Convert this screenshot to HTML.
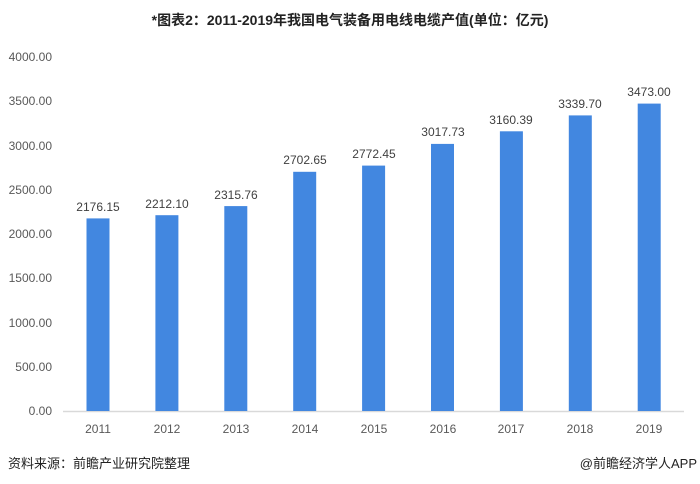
<!DOCTYPE html>
<html><head><meta charset="utf-8"><style>
body{margin:0;background:#fff;}
svg{display:block;font-family:"Liberation Sans","Noto Sans CJK SC",sans-serif;}
</style></head><body>
<svg width="700" height="484" xmlns="http://www.w3.org/2000/svg">
<rect width="700" height="484" fill="#fff"/>
<text x="350" y="25" text-anchor="middle" font-size="14" font-weight="bold" fill="#222">*图表2：2011-2019年我国电气装备用电线电缆产值(单位：亿元)</text>
<g font-size="12" fill="#595959" text-anchor="end">
<text x="52" y="415">0.00</text>
<text x="52" y="371">500.00</text>
<text x="52" y="327">1000.00</text>
<text x="52" y="282">1500.00</text>
<text x="52" y="238">2000.00</text>
<text x="52" y="194">2500.00</text>
<text x="52" y="150">3000.00</text>
<text x="52" y="105">3500.00</text>
<text x="52" y="61">4000.00</text>
</g>
<line x1="63" y1="411.5" x2="684" y2="411.5" stroke="#d9d9d9" stroke-width="1.5"/>
<g fill="#4287e0">
<rect x="86.5" y="218.4" width="23" height="192.6"/>
<rect x="155.4" y="215.2" width="23" height="195.8"/>
<rect x="224.3" y="206.1" width="23" height="204.9"/>
<rect x="293.2" y="171.8" width="23" height="239.2"/>
<rect x="362.1" y="165.6" width="23" height="245.4"/>
<rect x="431" y="143.9" width="23" height="267.1"/>
<rect x="499.9" y="131.3" width="23" height="279.7"/>
<rect x="568.8" y="115.4" width="23" height="295.6"/>
<rect x="637.7" y="103.6" width="23" height="307.4"/>
</g>
<g font-size="12" fill="#404040" text-anchor="middle">
<text x="98" y="211">2176.15</text>
<text x="167" y="208">2212.10</text>
<text x="236" y="199">2315.76</text>
<text x="305" y="164">2702.65</text>
<text x="374" y="158">2772.45</text>
<text x="443" y="136">3017.73</text>
<text x="511" y="124">3160.39</text>
<text x="580" y="108">3339.70</text>
<text x="649" y="96">3473.00</text>
</g>
<g font-size="12" fill="#595959" text-anchor="middle">
<text x="98" y="433">2011</text>
<text x="167" y="433">2012</text>
<text x="236" y="433">2013</text>
<text x="305" y="433">2014</text>
<text x="374" y="433">2015</text>
<text x="443" y="433">2016</text>
<text x="511" y="433">2017</text>
<text x="580" y="433">2018</text>
<text x="649" y="433">2019</text>
</g>
<text x="8" y="468" font-size="13" fill="#222">资料来源：前瞻产业研究院整理</text>
<text x="697" y="468" font-size="13" fill="#222" text-anchor="end">@前瞻经济学人APP</text>
</svg>
</body></html>
